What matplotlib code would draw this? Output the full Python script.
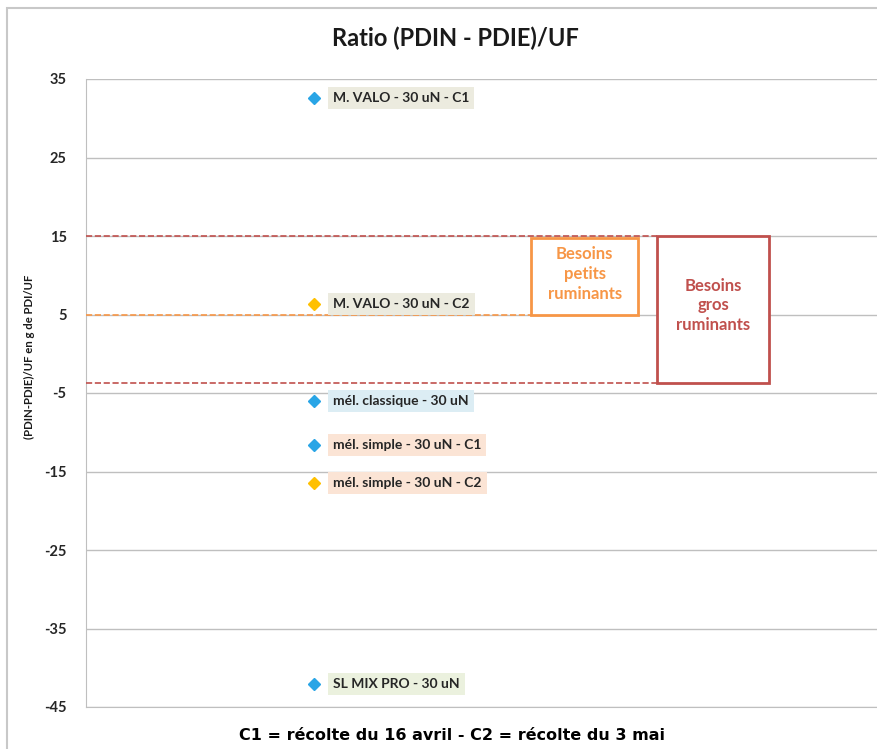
import matplotlib.pyplot as plt
from matplotlib.patches import Rectangle

plt.rcParams['font.family'] = ['Lato', 'DejaVu Sans']
plt.rcParams['axes.unicode_minus'] = False

labels = ["M. VALO - 30 uN - C1", "M. VALO - 30 uN - C2", "mél. classique - 30 uN",
          "mél. simple - 30 uN - C1", "mél. simple - 30 uN - C2", "SL MIX PRO - 30 uN"]
values = [32.6, 6.3, -6.0, -11.6, -16.5, -42.1]
harvest = ["C1", "C2", "C1", "C1", "C2", "C1"]
label_bg = ["#ecebdf", "#ecebdf", "#dcedf4", "#fbe4d5", "#fbe4d5", "#ebf1de"]
yticks = [35, 25, 15, 5, -5, -15, -25, -35, -45]

small_low, small_high = 5, 15
big_low, big_high = -3.7, 15

blue = "#29a5e6"
gold = "#ffc000"
red = "#c0504d"
orange = "#f79646"

fig = plt.figure(figsize=(8.77, 7.49), dpi=100)
ax = fig.add_axes([86/877, 1 - 707/749, 1 - 86/877, (707 - 79)/749])

# frame around the chart
fig.patches.append(Rectangle((7/877, -0.1), 1.2, 1.1 - 8/749, transform=fig.transFigure,
                             fill=False, edgecolor="#c8c8c8", linewidth=1.5, zorder=0))

ax.set_xlim(0, 1)
ax.set_ylim(-45, 35)
ax.set_yticks(yticks)
ax.set_xticks([])
ax.yaxis.grid(True, color="#bfbfbf", linewidth=1)
ax.set_axisbelow(True)
for s in ["top", "right"]:
    ax.spines[s].set_visible(False)
ax.spines["left"].set_color("#bfbfbf")
ax.spines["bottom"].set_color("#bfbfbf")
ax.tick_params(axis="y", length=0, pad=14, labelsize=10.5)
for t in ax.get_yticklabels():
    t.set_fontweight("bold")
    t.set_color("#262626")

ax.set_ylabel("(PDIN-PDIE)/UF en g de PDI/UF", fontsize=8.2, fontweight="bold", color="#1a1a1a")
ax.yaxis.set_label_coords(-0.064, 0.557)

xp = 0.288
for lab, v, h, bg in zip(labels, values, harvest, label_bg):
    ax.plot(xp, v, marker="D", markersize=6.5, color=blue if h == "C1" else gold,
            linestyle="none", zorder=4)
    ax.annotate(lab, (xp, v), xytext=(14, 0), textcoords="offset points",
                va="center", ha="left", fontsize=10, fontweight="bold", color="#262626",
                bbox=dict(boxstyle="square,pad=0.35", facecolor=bg, edgecolor="none"),
                zorder=5)

# reference lines
bx0, bx1 = 0.7225, 0.8635
ox0, ox1 = 0.5626, 0.698
ax.plot([0, bx0], [big_high, big_high], color=red, linestyle="--", linewidth=1.2, zorder=3)
ax.plot([0, bx0], [big_low, big_low], color=red, linestyle="--", linewidth=1.2, zorder=3)
ax.plot([0, ox0], [small_low, small_low], color=orange, linestyle="--", linewidth=1.2, zorder=3)

ax.add_patch(Rectangle((ox0, small_low), ox1 - ox0, small_high - small_low - 0.2,
                       fill=True, facecolor="white", edgecolor=orange, linewidth=2, zorder=4))
ax.text((ox0 + ox1) / 2, (small_low + small_high) / 2 + 0.2, "Besoins\npetits\nruminants",
        ha="center", va="center", fontsize=12, fontweight="bold", color=orange,
        linespacing=1.3, zorder=5)
ax.add_patch(Rectangle((bx0, big_low), bx1 - bx0, big_high - big_low,
                       fill=True, facecolor="white", edgecolor=red, linewidth=2, zorder=4))
ax.text((bx0 + bx1) / 2, (big_low + big_high) / 2 + 0.5, "Besoins\ngros\nruminants",
        ha="center", va="center", fontsize=12, fontweight="bold", color=red,
        linespacing=1.3, zorder=5)

fig.text(455/877, 1 - 38/749, "Ratio (PDIN - PDIE)/UF", ha="center", va="center",
         fontsize=17, fontweight="bold", color="#1a1a1a")
fig.text(452/877, 1 - 735/749, "C1 = récolte du 16 avril - C2 = récolte du 3 mai",
         ha="center", va="center", fontsize=11.5, fontweight="bold", color="#000000",
         family="DejaVu Sans")

fig.savefig("out.png", dpi=100)
